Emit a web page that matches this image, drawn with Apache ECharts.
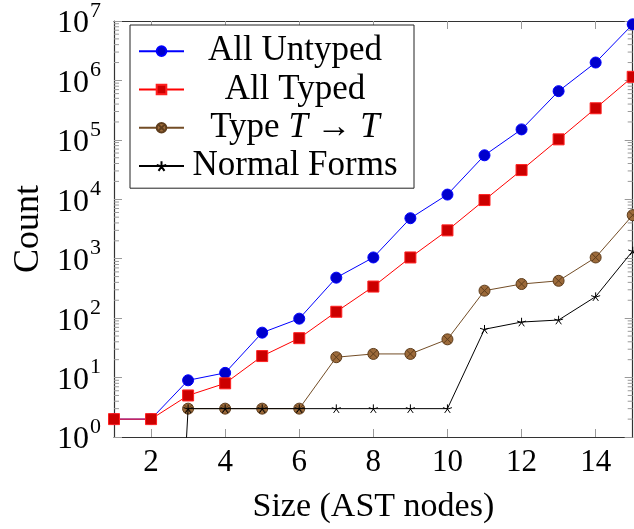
<!DOCTYPE html>
<html>
<head>
<meta charset="utf-8">
<script src="https://cdn.jsdelivr.net/npm/echarts@6/dist/echarts.min.js"></script>
<style>
html,body{margin:0;padding:0;background:#fff;}
#chart{width:634px;height:529px;}
</style>
</head>
<body>
<div id="chart"></div>
<script>
// ---- data ----
const sizes = [1, 2, 3, 4, 5, 6, 7, 8, 9, 10, 11, 12, 13, 14, 15];
const allUntyped = [2, 2, 9, 12, 57, 98, 480, 1050, 4800, 12000, 55000, 150000, 660000, 2000000, 8800000];
const allTyped = [2, 2, 5, 8, 23, 46, 128, 340, 1050, 3000, 9700, 31000, 102000, 340000, 1150000];
const typeTT = [null, null, 3, 3, 3, 3, 22, 25, 25, 44, 290, 375, 425, 1050, 5400];
const normalForms = [1e-11, 1e-11, 3, 3, 3, 3, 3, 3, 3, 3, 65, 86, 93, 230, 1350];
const seriesNames = ['All Untyped', 'All Typed', 'Type T → T', 'Normal Forms'];
const xTicks = [2, 4, 6, 8, 10, 12, 14];
const yExponents = ['0', '1', '2', '3', '4', '5', '6', '7'];
const minorMultipliers = [2, 3, 4, 5, 6, 7, 8, 9];

const X_MIN = 1, X_MAX = 15, Y_MIN = 1, Y_MAX = 1e7;
const FONT = 'Liberation Serif';

function pairs(ys) { return sizes.map((x, i) => [x, ys[i]]); }

const minorTickData = [];
for (let d = 0; d < yExponents.length - 1; d++) {
  minorMultipliers.forEach(m => minorTickData.push([X_MIN, m * Math.pow(10, d)]));
}

const starPath = 'path://M0,-10L0,0M0,0L9.51,-3.09M0,0L5.88,8.09M0,0L-5.88,8.09M0,0L-9.51,-3.09';
const otimesPath = 'path://M0,-10A10,10 0 1,1 0,10A10,10 0 1,1 0,-10ZM-7.07,-7.07L7.07,7.07M7.07,-7.07L-7.07,7.07';

const tickColor = '#9a9a9a';
const axisLine = { show: true, lineStyle: { color: '#333', width: 1.2 } };

const chart = echarts.init(document.getElementById('chart'), null, { renderer: 'canvas' });
chart.setOption({
  animation: false,
  backgroundColor: '#fff',
  grid: { left: 114, right: 1.3, top: 12.3, bottom: 86.7, containLabel: false },
  legend: {
    data: seriesNames,
    orient: 'vertical',
    left: 130, top: 25,
    padding: [7, 13, 3, 8],
    itemWidth: 45, itemHeight: 12, itemGap: 0,
    borderColor: '#222', borderWidth: 1, backgroundColor: '#fff',
    formatter: function (name) {
      if (name === 'Type T → T') return '{a|Type }{i|T}{a| → }{i|T}';
      return '{a|' + name + '}';
    },
    textStyle: {
      fontFamily: FONT, fontSize: 35, color: '#000', width: 212, lineHeight: 38.3,
      rich: {
        a: { fontFamily: FONT, fontSize: 35, color: '#000', align: 'center', lineHeight: 38.3 },
        i: { fontFamily: FONT, fontSize: 35, color: '#000', fontStyle: 'italic', align: 'center', lineHeight: 38.3 }
      }
    }
  },
  xAxis: [{
    type: 'value', min: X_MIN, max: X_MAX, position: 'bottom',
    name: 'Size (AST nodes)', nameLocation: 'middle', nameGap: 53,
    nameTextStyle: { fontFamily: FONT, fontSize: 34, color: '#000' },
    axisLine: axisLine,
    axisTick: { show: true, inside: true, length: 8, customValues: xTicks, lineStyle: { color: tickColor } },
    axisLabel: { show: true, customValues: xTicks, margin: 10, fontFamily: FONT, fontSize: 31, color: '#000' },
    splitLine: { show: false }
  }, {
    type: 'value', min: X_MIN, max: X_MAX, position: 'top',
    axisLine: axisLine,
    axisTick: { show: true, inside: true, length: 8, customValues: xTicks, lineStyle: { color: tickColor } },
    axisLabel: { show: false },
    splitLine: { show: false }
  }],
  yAxis: [{
    type: 'log', logBase: 10, min: Y_MIN, max: Y_MAX, position: 'left',
    name: 'Count', nameLocation: 'middle', nameGap: 64,
    nameTextStyle: { fontFamily: FONT, fontSize: 36, color: '#000' },
    axisLine: axisLine,
    axisTick: { show: true, inside: true, length: 8, lineStyle: { color: tickColor } },
    minorTick: { show: false },
    axisLabel: {
      margin: 13,
      formatter: function (v) {
        const e = yExponents[Math.round(Math.log10(v))];
        return '{b|10}{s|' + e + '}';
      },
      rich: {
        b: { fontFamily: FONT, fontSize: 32, color: '#000', padding: [6, 0, 0, 0] },
        s: { fontFamily: FONT, fontSize: 22, color: '#000', padding: [0, 0, 20, 1] }
      }
    },
    splitLine: { show: false }
  }, {
    type: 'log', logBase: 10, min: Y_MIN, max: Y_MAX, position: 'right',
    axisLine: axisLine,
    axisTick: { show: true, inside: true, length: 8, lineStyle: { color: tickColor } },
    axisLabel: { show: false },
    splitLine: { show: false }
  }],
  series: [{
    type: 'custom', name: 'minorTicks', silent: true, z: 1,
    xAxisIndex: 0, yAxisIndex: 0,
    data: minorTickData,
    encode: { x: 0, y: 1 },
    renderItem: function (params, api) {
      const v = api.value(1);
      const pL = api.coord([X_MIN, v]);
      const pR = api.coord([X_MAX, v]);
      return {
        type: 'group',
        children: [
          { type: 'line', shape: { x1: pL[0], y1: pL[1], x2: pL[0] + 5, y2: pL[1] }, style: { stroke: tickColor, lineWidth: 1 } },
          { type: 'line', shape: { x1: pR[0], y1: pR[1], x2: pR[0] - 5, y2: pR[1] }, style: { stroke: tickColor, lineWidth: 1 } }
        ]
      };
    }
  }, {
    type: 'line', name: seriesNames[0], data: pairs(allUntyped),
    symbol: 'circle', symbolSize: 11,
    lineStyle: { color: '#0000ff', width: 1 },
    itemStyle: { color: '#0000cc', borderColor: '#0000ff', borderWidth: 1 },
    z: 3
  }, {
    type: 'line', name: seriesNames[1], data: pairs(allTyped),
    symbol: 'rect', symbolSize: 11,
    lineStyle: { color: '#ff0000', width: 1 },
    itemStyle: { color: '#cc0000', borderColor: '#ff2020', borderWidth: 1 },
    z: 4
  }, {
    type: 'line', name: seriesNames[2], data: pairs(typeTT),
    symbol: otimesPath, symbolSize: 11, symbolKeepAspect: true,
    lineStyle: { color: '#734d26', width: 1 },
    itemStyle: { color: '#9c6a3a', borderColor: '#5e3d1c', borderWidth: 1 },
    z: 5
  }, {
    type: 'line', name: seriesNames[3], data: pairs(normalForms),
    symbol: starPath, symbolSize: 9, symbolKeepAspect: true,
    lineStyle: { color: '#000', width: 1 },
    itemStyle: { color: 'none', borderColor: '#000', borderWidth: 1 },
    z: 6
  }]
});
</script>
</body>
</html>
